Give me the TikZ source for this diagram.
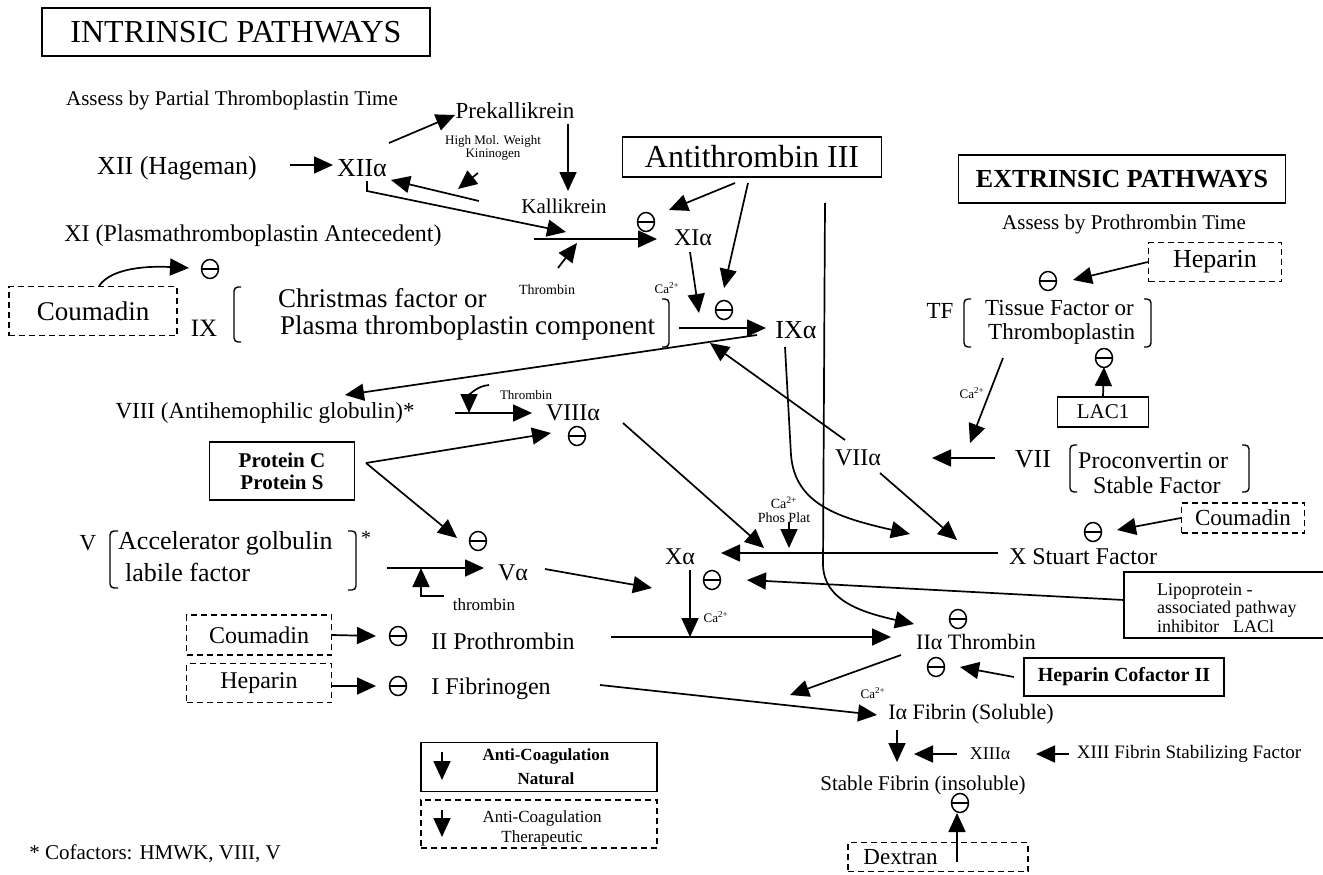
\documentclass[tikz,border=0pt]{standalone}
\usepackage{fontspec}
\setmainfont{Liberation Serif}
\usetikzlibrary{arrows.meta,shapes.geometric}
\newcommand{\fsz}[1]{\fontsize{#1}{#1}\selectfont}
\tikzset{
  lbl/.style={inner sep=0pt, text=black},
  ln/.style={line width=1.6pt},
  ar/.style={line width=1.7pt, -{Triangle[length=19pt,width=17pt]}},
  box/.style={draw, line width=1.6pt, inner sep=0pt},
  dbox/.style={draw, line width=1.4pt, dash pattern=on 6pt off 4pt, inner sep=0pt},
  inh/.style={ellipse, draw, line width=1.5pt, minimum width=17pt, minimum height=19pt, inner sep=0pt,
    path picture={\draw[line width=1.5pt] (path picture bounding box.west) -- (path picture bounding box.east);}},
  brk/.style={line width=1.4pt, rounded corners=4pt},
}
\begin{document}
\begin{tikzpicture}[x=1pt,y=-1pt]
\useasboundingbox (0,0) rectangle (1323,875);
\fill[white] (0,0) rectangle (1323,875);

% ---------- titles ----------
\node[box, minimum width=388pt, minimum height=48pt, font=\fsz{32}] (intr) at (236,32) {INTRINSIC PATHWAYS};
\node[lbl, font=\fsz{21}] (ptt) at (232,100) {Assess by Partial Thromboplastin Time};
\node[box, minimum width=327pt, minimum height=48pt, font=\fsz{26}\bfseries] (extr) at (1122,179) {EXTRINSIC PATHWAYS};
\node[lbl, font=\fsz{21}] (pt) at (1124,224) {Assess by Prothrombin Time};
\node[box, minimum width=259pt, minimum height=40pt, font=\fsz{32}] (at3) at (752,157) {Antithrombin III};

% ---------- intrinsic top ----------
\node[lbl, font=\fsz{23}] (prek) at (515,111) {Prekallikrein};
\node[lbl, font=\fsz{13}] (hmw1) at (493,141) {High Mol. Weight};
\node[lbl, font=\fsz{13}] (hmw2) at (493,155) {Kininogen};
\node[lbl, font=\fsz{26}] (xii) at (177,168) {XII (Hageman)};
\node[lbl, font=\fsz{26}] (xiia) at (362,168) {XIIα};
\node[lbl, font=\fsz{21}] (kall) at (564,206) {Kallikrein};
\node[lbl, font=\fsz{24}] (xi) at (253,236) {XI (Plasmathromboplastin Antecedent)};
\node[lbl, font=\fsz{14}] (thr1) at (547,290) {Thrombin};
\node[lbl, font=\fsz{24}] (xia) at (693,238) {XIα};
\node[inh] (th1) at (646,222) {};
\node[lbl, font=\fsz{13}] (ca1) at (667,288) {Ca\textsuperscript{2+}};
\node[inh] (th2) at (724,310) {};
\node[lbl, font=\fsz{26}] (ixa) at (796,330) {IXα};

% IX
\node[dbox, minimum width=168pt, minimum height=49pt, font=\fsz{27}] (coum1) at (93,311) {Coumadin};
\node[inh] (th3) at (210,269) {};
\node[lbl, font=\fsz{25}] (ix) at (204,328) {IX};
\draw[brk] (241,287) -- (234,287) -- (234,342) -- (241,342);
\node[lbl, font=\fsz{27}, anchor=west] (cf1) at (278,298) {Christmas factor or};
\node[lbl, font=\fsz{27}, anchor=west] (cf2) at (280,328) {Plasma thromboplastin component};
\draw[brk] (662,299) -- (669,299) -- (669,347) -- (662,347);

% VIII
\node[lbl, font=\fsz{23}] (viii) at (265,413) {VIII (Antihemophilic globulin)*};
\node[lbl, font=\fsz{13}] (thr2) at (526,395) {Thrombin};
\node[lbl, font=\fsz{24}] (viiia) at (573,413) {VIIIα};
\node[inh] (th4) at (577,436) {};
\node[box, minimum width=145pt, minimum height=58pt, align=center, font=\fsz{21}\bfseries] (prot) at (282,471) {Protein C\\[1pt]Protein S};
\coordinate (protR) at (366,463);

% V
\node[inh] (th5) at (478,541) {};
\node[lbl, font=\fsz{23}] (v) at (88,543) {V};
\draw[brk] (118,531) -- (110,531) -- (110,588) -- (118,588);
\node[lbl, font=\fsz{26}, anchor=west] (ag1) at (118,543) {Accelerator golbulin};
\node[lbl, font=\fsz{26}, anchor=west] (ag2) at (125,572) {labile factor};
\draw[brk] (348,531) -- (356,531) -- (356,590) -- (348,590);
\node[lbl, font=\fsz{20}] (star) at (366,538) {*};
\node[lbl, font=\fsz{24}] (va) at (513,573) {Vα};
\node[lbl, font=\fsz{17}] (thr3) at (484,605) {thrombin};

% X
\node[lbl, font=\fsz{24}] (xa) at (680,557) {Xα};
\node[inh] (th6) at (712,580) {};
\node[lbl, font=\fsz{13}] (ca2) at (716,617) {Ca\textsuperscript{2+}};
\node[lbl, font=\fsz{14}] (ca3) at (784,503) {Ca\textsuperscript{2+}};
\node[lbl, font=\fsz{14}] (pp) at (784,518) {Phos Plat};
\node[lbl, font=\fsz{24}] (xs) at (1083,557) {X Stuart Factor};

% extrinsic
\node[dbox, minimum width=133pt, minimum height=39pt, font=\fsz{26}] (hep1) at (1215,262) {Heparin};
\node[inh] (th7) at (1048,281) {};
\node[lbl, font=\fsz{23}] (tf) at (940,311) {TF};
\draw[brk] (971,299) -- (964,299) -- (964,347) -- (971,347);
\node[lbl, font=\fsz{23}, anchor=west] (tf1) at (985,308) {Tissue Factor or};
\node[lbl, font=\fsz{23}, anchor=west] (tf2) at (988,334) {Thromboplastin};
\draw[brk] (1144,299) -- (1151,299) -- (1151,347) -- (1144,347);
\node[inh] (th8) at (1104,358) {};
\node[box, minimum width=91pt, minimum height=30pt, font=\fsz{21}] (lac) at (1103,412) {LAC1};
\node[lbl, font=\fsz{13}] (ca4) at (972,393) {Ca\textsuperscript{2+}};
\node[lbl, font=\fsz{24}] (viia) at (858,458) {VIIα};
\node[lbl, font=\fsz{26}] (vii) at (1033,459) {VII};
\draw[brk] (1077,445) -- (1070,445) -- (1070,492) -- (1077,492);
\node[lbl, font=\fsz{24}, anchor=west] (pc1) at (1078,461) {Proconvertin or};
\node[lbl, font=\fsz{24}, anchor=west] (pc2) at (1093,485) {Stable Factor};
\draw[brk] (1242,445) -- (1249,445) -- (1249,492) -- (1242,492);
\node[dbox, minimum width=123pt, minimum height=30pt, font=\fsz{23}] (coum2) at (1243,518) {Coumadin};
\node[inh] (th9) at (1093,532) {};
\draw[line width=1.5pt] (1323,572) -- (1124,572) -- (1124,638) -- (1323,638);
\node[lbl, font=\fsz{18}, anchor=west] (lp1) at (1157,591) {Lipoprotein -};
\node[lbl, font=\fsz{18}, anchor=west] (lp2) at (1157,609) {associated pathway};
\node[lbl, font=\fsz{18}, anchor=west] (lp3) at (1157,626) {inhibitor\hspace{14pt}LACl};
\coordinate (lpL) at (1124,600);

% thrombin and fibrin
\node[lbl, font=\fsz{22}] (iia) at (976,642) {IIα Thrombin};
\node[inh] (th10) at (958,619) {};
\node[inh] (th11) at (936,667) {};
\node[box, minimum width=200pt, minimum height=38pt, font=\fsz{20}\bfseries] (hcf) at (1124,677) {Heparin Cofactor II};
\node[lbl, font=\fsz{13}] (ca5) at (873,693) {Ca\textsuperscript{2+}};
\node[lbl, font=\fsz{22}] (ia) at (971,714) {Iα Fibrin (Soluble)};
\node[lbl, font=\fsz{18}] (xiiia) at (990,754) {XIIIα};
\node[lbl, font=\fsz{19}] (xiii) at (1189,754) {XIII Fibrin Stabilizing Factor};
\node[lbl, font=\fsz{21}] (sf) at (923,785) {Stable Fibrin (insoluble)};
\node[inh] (th12) at (960,803) {};
\node[dbox, minimum width=180pt, minimum height=29pt, font=\fsz{23}] (dex) at (938,857) {\hspace*{-75pt}Dextran};

% bottom left
\node[dbox, minimum width=145pt, minimum height=40pt, font=\fsz{24}] (coum3) at (259,635) {Coumadin};
\node[inh] (th13) at (398,636) {};
\node[lbl, font=\fsz{24}] (ii) at (503,641) {II Prothrombin};
\node[dbox, minimum width=145pt, minimum height=39pt, font=\fsz{24}] (hep2) at (259,683) {Heparin};
\node[inh] (th14) at (398,686) {};
\node[lbl, font=\fsz{24}] (fib) at (491,689) {I Fibrinogen};

% legend
\node[box, minimum width=236pt, minimum height=49pt] (leg1) at (539,767) {};
\node[lbl, font=\fsz{17}\bfseries] (l1a) at (546,756) {Anti-Coagulation};
\node[lbl, font=\fsz{17}\bfseries] (l1b) at (546,779) {Natural};
\node[dbox, minimum width=236pt, minimum height=48pt] (leg2) at (539,824) {};
\node[lbl, font=\fsz{17}] (l2a) at (542,818) {Anti-Coagulation};
\node[lbl, font=\fsz{17}] (l2b) at (542,838) {Therapeutic};
\node[lbl, font=\fsz{21}] (cof) at (155,854) {* Cofactors: HMWK, VIII, V};

% ---------- connectors ----------
\draw[ar] (290,165) -- (333,165);
\draw[ar] (389,143) -- (455,115);
\draw[ar] (478,173) -- (458,189);
\draw[ar] (479,201) -- (391,180);
\draw[ar] (367,181) -- (367,191) -- (566,232);
\draw[ar] (568,124) -- (568,191);
\draw[ar] (534,239) -- (657,239);
\draw[ar] (558,268) -- (577,243);
\draw[ar] (735,183) -- (669,210);
\draw[ar] (748,183) -- (724,288);
\draw[ar] (690,252) -- (699,313);
\draw[ar] (679,328) -- (766,328);
\draw[ar] (99,286) .. controls (112,267) and (150,266) .. (189,268);
% long vertical line to thrombin
\draw[ar] (825,203) -- (823,565) .. controls (824,600) and (860,612) .. (914,624);
% IXa to X
\draw[ar] (785,347) -- (791,455) .. controls (795,505) and (840,518) .. (910,534);
% IXa to VIII
\draw[ar] (757,335) -- (345,395);
% VIIa to IX
\draw[ar] (845,440) -- (710,343);
% VIII
\draw[ar] (455,413) -- (532,413);
\draw[ar] (489,385) .. controls (476,386) and (469,396) .. (469,413);
\draw[ar] (protR) -- (551,433);
\draw[ar] (protR) -- (457,538);
\draw[ar] (623,423) -- (764,548);
% V
\draw[ar] (387,568) -- (484,568);
\draw[ar] (444,596) -- (421,596) -- (421,568);
\draw[ar] (545,569) -- (652,588);
% X
\draw[ar] (998,553) -- (721,553);
\draw[ar] (789,522) -- (789,548);
\draw[ar] (690,570) -- (690,637);
\draw[ar] (611,637) -- (891,637);
\draw[ar] (lpL) -- (747,580);
\draw[ar] (880,473) -- (957,540);
\draw[ar] (995,458) -- (932,458);
\draw[ar] (1003,358) -- (970,443);
\draw[ar] (hep1.west) -- (1073,280);
\draw[ar] (lac.north) -- (1104,367);
\draw[ar] (coum2.west) -- (1117,530);
\draw[ar] (1014,677) -- (960,667);
\draw[ar] (901,655) -- (790,695);
\draw[ar] (600,685) -- (877,715);
\draw[ar] (897,730) -- (897,762);
\draw[ar] (957,754) -- (914,754);
\draw[ar] (1069,754) -- (1036,754);
\draw[ar] (957,862) -- (957,813);
\draw[ar] (coum3.east) -- (376,636);
\draw[ar] (332,686) -- (376,686);
\draw[ar] (442,752) -- (442,780);
\draw[ar] (442,810) -- (442,837);
\end{tikzpicture}
\end{document}
